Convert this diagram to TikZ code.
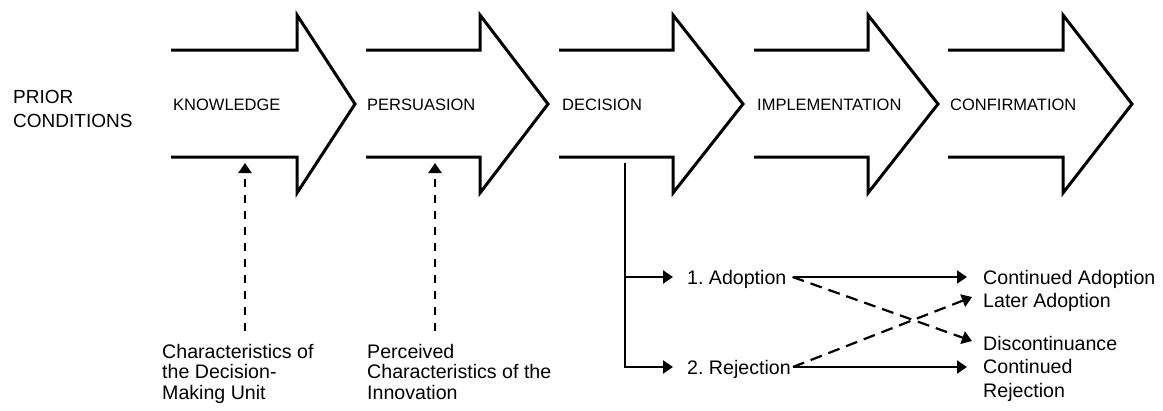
\documentclass[tikz,border=0pt]{standalone}
\usepackage{fontspec}
\setmainfont{Liberation Sans}
\usetikzlibrary{arrows.meta,calc}
\frenchspacing
\tikzset{
  stage/.style={line width=3pt, line join=miter},
  stagelabel/.style={anchor=base west, inner sep=0pt, font=\fontsize{16.5}{20}\selectfont},
  lbl/.style={anchor=base west, inner sep=0pt, align=left, font=\fontsize{19.6}{20.5}\selectfont},
  rlbl/.style={anchor=base west, inner sep=0pt, align=left, font=\fontsize{19.6}{23.5}\selectfont},
  solidarrow/.style={line width=2.2pt, -{Triangle[length=10pt,width=13pt]}},
  dasharrow/.style={line width=2.2pt, dash pattern=on 8pt off 8pt, -{Triangle[length=10pt,width=13pt]}},
  crossarrow/.style={line width=2.2pt, dash pattern=on 12pt off 7pt, -{Triangle[length=10pt,width=13pt]}},
}
\begin{document}
\begin{tikzpicture}[x=1pt,y=-1pt]
\useasboundingbox (0,0) rectangle (1163,410);
% stage arrows
\foreach \L/\S/\T in {171/297/355,366/480/548,559/673/743,754/868/938,948/1063/1132}{
  \draw[stage] (\L,50) -- (\S,50) -- (\S,15) -- (\T,104) -- (\S,193) -- (\S,157) -- (\L,157);
}
% labels (multi-line nodes: base = last line's baseline)
\node[anchor=base west, inner sep=0pt, align=left, font=\fontsize{19}{24}\selectfont] (prior) at (13,127) {PRIOR\\CONDITIONS};
\node[stagelabel] (know) at (173,110) {KNOWLEDGE};
\node[stagelabel] (pers) at (367,110) {PERSUASION};
\node[stagelabel] (deci) at (562,110) {DECISION};
\node[stagelabel] (impl) at (757,110) {IMPLEMENTATION};
\node[stagelabel] (conf) at (950,110) {CONFIRMATION};
% influences
\node[lbl] (char) at (162,399) {Characteristics of\\the Decision-\\Making Unit};
\node[lbl] (perc) at (367,399) {Perceived\\Characteristics of the\\Innovation};
\coordinate (kb) at (245,163);
\coordinate (pb) at (435,163);
\draw[dasharrow] ([yshift=13pt]kb |- char.north) -- (kb);
\draw[dasharrow] ([yshift=13pt]pb |- perc.north) -- (pb);
% decision outcomes
\node[lbl] (adopt) at (687,284) {1. Adoption};
\node[lbl] (reject) at (687,374) {2. Rejection};
\node[lbl] (contad) at (983,284) {Continued Adoption};
\node[lbl] (later) at (983,307) {Later Adoption};
\node[lbl] (discont) at (983,350) {Discontinuance};
\node[rlbl] (contrej) at (983,397) {Continued\\Rejection};
\coordinate (db) at (625,163);
\draw[solidarrow] (db) |- ($(adopt.base west)+(-14,-7)$);
\draw[solidarrow] (db) |- ($(reject.base west)+(-14,-7)$);
\draw[solidarrow] ($(adopt.base east)+(6,-7)$) -- ($(contad.base west)+(-16,-7)$);
\draw[solidarrow] ($(reject.base east)+(2,-7)$) -- ($(contrej.base west)+(-16,-30)$);
\draw[crossarrow] ($(adopt.base east)+(6,-7)$) -- ($(discont.base west)+(-11,-9)$);
\draw[crossarrow] ($(reject.base east)+(2,-7)$) -- ($(later.base west)+(-11,-10)$);
\end{tikzpicture}
\end{document}
